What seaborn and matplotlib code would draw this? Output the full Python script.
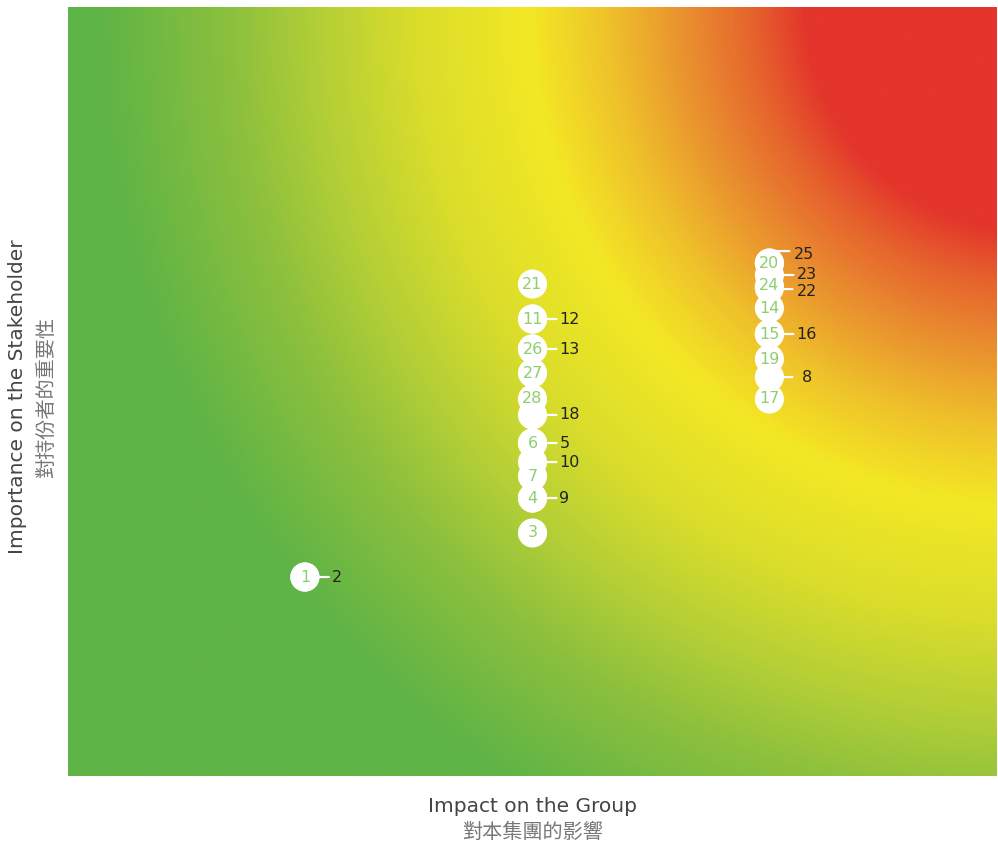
import numpy as np
import pandas as pd
import matplotlib
matplotlib.use("Agg")
import matplotlib.pyplot as plt
import seaborn as sns
from matplotlib.colors import LinearSegmentedColormap
from matplotlib.transforms import offset_copy

# ---------------- data ----------------
issue_ids = [1, 2, 3, 4, 5, 6, 7, 8, 9, 10, 11, 12, 13, 14,
             15, 16, 17, 18, 19, 20, 21, 22, 23, 24, 25, 26, 27, 28]
impact = [1.02, 1.02, 2.00, 2.00, 2.00, 2.00, 2.00, 3.02, 2.00, 2.00, 2.00, 2.00, 2.00, 3.02,
          3.02, 3.02, 3.02, 2.00, 3.02, 3.02, 2.00, 3.02, 3.02, 3.02, 3.02, 2.00, 2.00, 2.00]
importance = [1.035, 1.035, 1.264, 1.446, 1.732, 1.732, 1.560, 2.075, 1.446, 1.633, 2.377, 2.377,
              2.221, 2.434, 2.299, 2.299, 1.961, 1.878, 2.169, 2.668, 2.559, 2.538, 2.606, 2.549,
              2.668, 2.221, 2.096, 1.961]
# labels that the chart pushes outside the bubble (overlapping points)
outside_labels = [2, 5, 8, 9, 10, 12, 13, 16, 18, 22, 23, 25]

x_title_en = "Impact on the Group"
x_title_zh = "對本集團的影響"
y_title_en = "Importance on the Stakeholder"
y_title_zh = "對持份者的重要性"

df = pd.DataFrame({"id": issue_ids, "impact": impact, "importance": importance})

# ---------------- layout / style ----------------
W, H, DPI = 998, 846, 100
L, R, T, B = 68, 997, 7, 776
XMAX, YMAX = 4.0, 4.0
# label layout tweaks (pixels): line start, line end, text x, line dy, text dy  (dy positive = down)
label_layout = {8: (13, 23, 32, 0, 0), 25: (7, 20, 24, -12, -9), 22: (13, 23, 27, 1, 3)}
default_layout = (13, 24, 27, 0, 0)

sns.set_theme(style="white")
plt.rcParams["font.family"] = ["DejaVu Sans", "Noto Sans CJK TC"]

fig = plt.figure(figsize=(W / DPI, H / DPI), dpi=DPI, facecolor="white")
ax = fig.add_axes([L / W, 1 - B / H, (R - L) / W, (B - T) / H])

# background radial gradient centred just right of the top-right corner
CX_PX, CY_PX = 1030, 7
nx, ny = 600, 500
gx = np.linspace(0, XMAX, nx)
gy = np.linspace(0, YMAX, ny)
GX, GY = np.meshgrid(gx, gy)
PX = L + GX / XMAX * (R - L)
PY = B - GY / YMAX * (B - T)
dist = np.sqrt((PX - CX_PX) ** 2 + (PY - CY_PX) ** 2)
dmax = 1100.0
stops = [(0, "#e3352b"), (222, "#e3352b"), (275, "#e6622d"), (338, "#e98c2f"),
         (420, "#efc12b"), (500, "#f3e824"), (615, "#dadd2b"), (710, "#b4cf36"),
         (800, "#8cc03d"), (930, "#5fb446"), (dmax, "#5fb446")]
cmap = LinearSegmentedColormap.from_list("bg", [(d / dmax, c) for d, c in stops])
ax.imshow(dist / dmax, cmap=cmap, vmin=0, vmax=1, extent=[0, XMAX, 0, YMAX],
          origin="lower", aspect="auto", interpolation="bilinear", zorder=0)

sns.scatterplot(data=df, x="impact", y="importance", s=440, color="white",
                edgecolor="none", linewidth=0, legend=False, zorder=3, ax=ax)

for _, row in df.iterrows():
    i, x, y = int(row["id"]), row["impact"], row["importance"]
    if i in outside_labels:
        l0, l1, tx, ldy, tdy = label_layout.get(i, default_layout)
        t0 = offset_copy(ax.transData, fig=fig, x=l0, y=-ldy, units="dots")
        t1 = offset_copy(ax.transData, fig=fig, x=l1, y=-ldy, units="dots")
        ax.annotate("", xy=(x, y), xycoords=t1, xytext=(x, y), textcoords=t0,
                    arrowprops=dict(arrowstyle="-", color="white", lw=1.6,
                                    shrinkA=0, shrinkB=0), zorder=5)
        tt = offset_copy(ax.transData, fig=fig, x=tx, y=-tdy, units="dots")
        ax.text(x, y, str(i), transform=tt, ha="left", va="center",
                color="#222222", fontsize=11.5, zorder=6)
    else:
        ax.text(x, y, str(i), ha="center", va="center", color="#8fce6e",
                fontsize=11.5, zorder=6)

ax.set_xlim(0, XMAX)
ax.set_ylim(0, YMAX)
ax.set_xticks([])
ax.set_yticks([])
ax.set_xlabel("")
ax.set_ylabel("")
for s in ax.spines.values():
    s.set_visible(False)

fig.text(532.5 / W, 1 - 806 / H, x_title_en, ha="center", va="center",
         fontsize=14.5, color="#444444")
fig.text(532.5 / W, 1 - 832 / H, x_title_zh, ha="center", va="center",
         fontsize=14.5, color="#777777", family=["Noto Sans CJK TC", "DejaVu Sans"])
fig.text(18 / W, 1 - 397 / H, y_title_en, ha="center", va="center", rotation=90,
         fontsize=14.5, color="#444444")
fig.text(47 / W, 1 - 397 / H, y_title_zh, ha="center", va="center", rotation=90,
         fontsize=14.5, color="#777777", family=["Noto Sans CJK TC", "DejaVu Sans"])

fig.savefig("out.png", dpi=DPI, facecolor="white")
